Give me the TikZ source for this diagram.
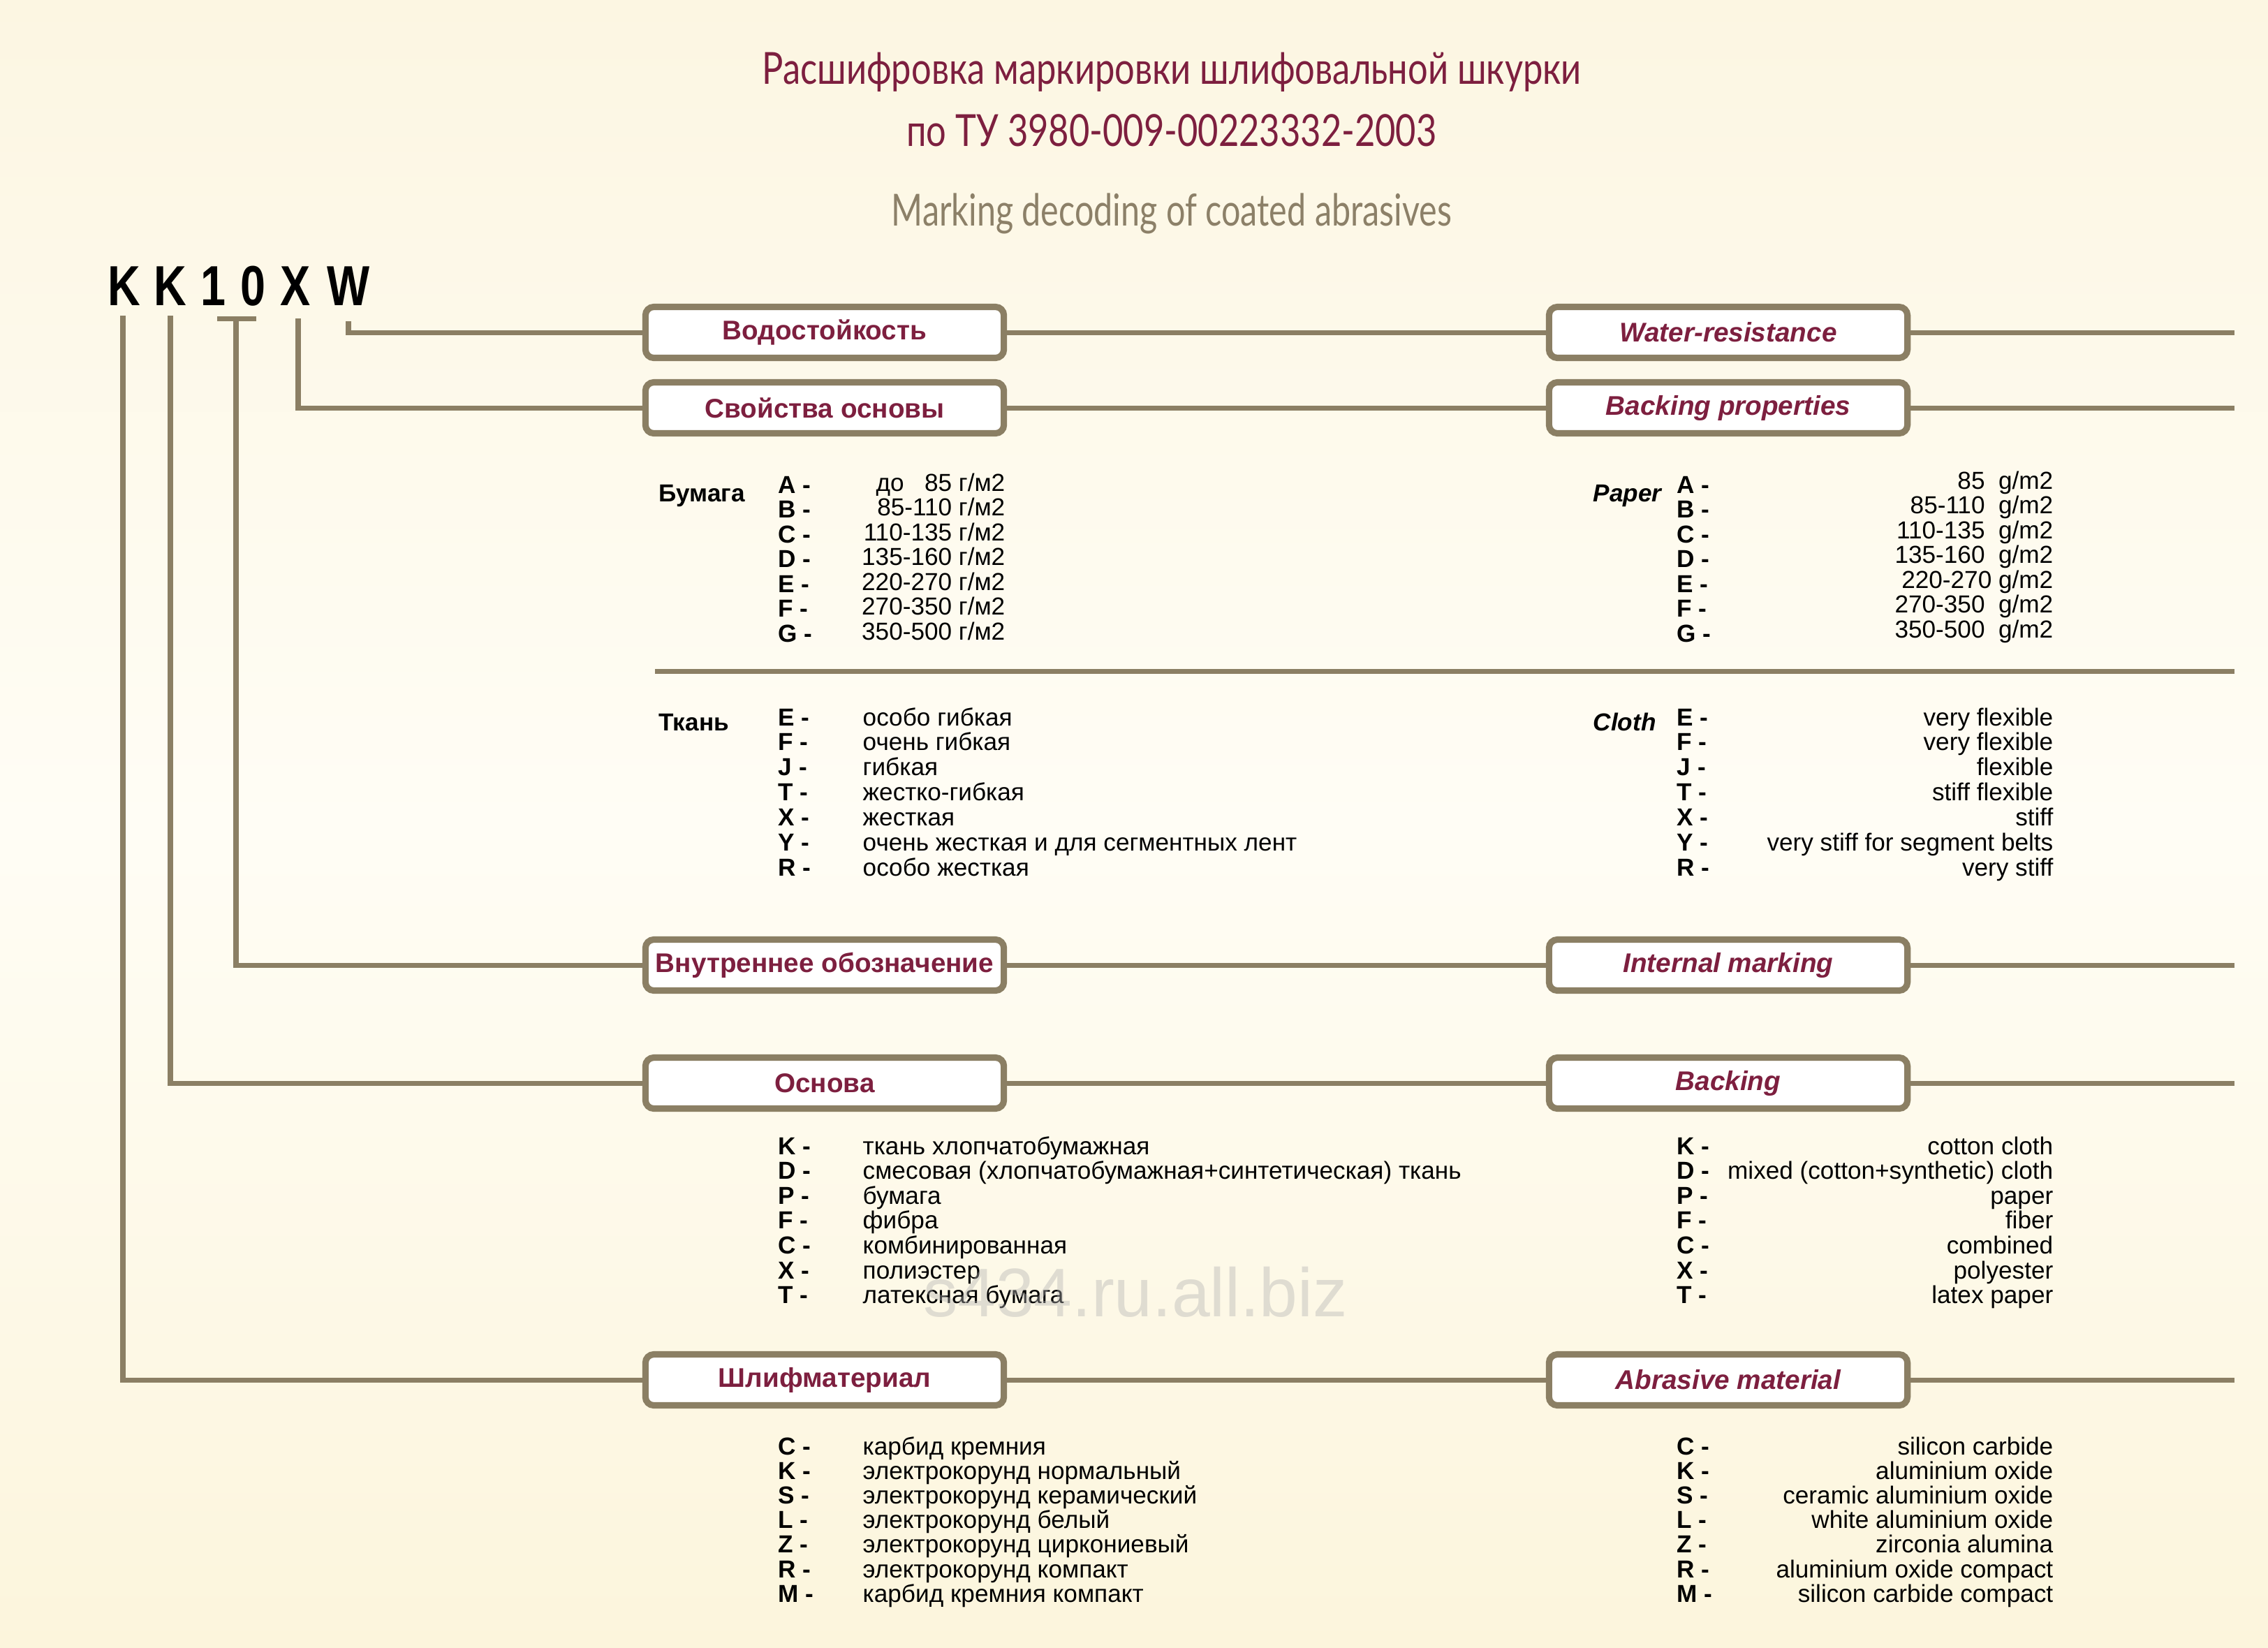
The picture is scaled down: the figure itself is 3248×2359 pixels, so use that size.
\documentclass[tikz,border=0pt]{standalone}
\usepackage{fontspec}
\setmainfont{Liberation Sans}
\newfontfamily\titlefont[FakeStretch=0.8]{Lato}
\newfontfamily\subtitlefont[FakeStretch=0.766]{Lato}
\newfontfamily\codefont[FakeStretch=0.8]{Liberation Sans}
\usetikzlibrary{shadows}
\definecolor{bgtop}{HTML}{FCF6E2}
\definecolor{bgmid}{HTML}{FFFDF5}
\definecolor{bgbot}{HTML}{FCF5DC}
\definecolor{lnc}{HTML}{8B7F64}
\definecolor{maroon}{HTML}{7D1F3F}
\definecolor{subt}{HTML}{8C8068}
\newcommand\gmr{г/м2}
\newcommand\gme{g/m2}
\tikzset{
  conn/.style={draw=lnc, line width=2pt},
  hbox/.style={draw=lnc, line width=2.6pt, fill=white, rounded corners=0.12cm,
    minimum width=5.13cm, minimum height=0.73cm, inner sep=0pt, text=maroon,
    font=\bfseries\fontsize{11}{13}\selectfont,
    drop shadow={shadow xshift=0.015cm, shadow yshift=-0.03cm, fill=lnc!80!black, opacity=0.6}},
  hboxr/.style={hbox, font=\bfseries\itshape\fontsize{11}{13}\selectfont},
  lbl/.style={font=\bfseries\fontsize{10}{12}\selectfont, anchor=base west, inner sep=0pt},
  lbli/.style={font=\bfseries\itshape\fontsize{10}{12}\selectfont, anchor=base west, inner sep=0pt},
  descl/.style={font=\fontsize{10}{12}\selectfont, anchor=base west, inner sep=0pt},
  descr/.style={font=\fontsize{10}{12}\selectfont, anchor=base east, inner sep=0pt},
  code/.style={font=\codefont\bfseries\fontsize{23}{25}\selectfont, anchor=base, inner sep=0pt},
  ttl/.style={font=\titlefont\fontsize{18}{20}\selectfont, anchor=base, inner sep=0pt}
}
\begin{document}
\begin{tikzpicture}[x=0.01cm, y=-0.01cm]
\shade[top color=bgtop, bottom color=bgbot, middle color=bgmid] (0,0) rectangle (3248,2359);
\path[use as bounding box] (0,0) rectangle (3248,2359);

% titles
\node[ttl, text=maroon] (t1) at (1678,120) {Расшифровка маркировки шлифовальной шкурки};
\node[ttl, text=maroon] (t2) at (1678,209) {по ТУ 3980-009-00223332-2003};
\node[ttl, text=subt, font=\subtitlefont\fontsize{18}{20}\selectfont] (t3) at (1678,323) {Marking decoding of coated abrasives};

% code letters
\node[code] (k1) at (178,437) {K};
\node[code] (k2) at (244,437) {K};
\node[code] (n1) at (305,437) {1};
\node[code] (n0) at (362,437) {0};
\node[code] (kx) at (423,437) {X};
\node[code] (kw) at (499,437) {W};

% connector start points
\coordinate (c1) at (176,452);
\coordinate (c2) at (244,452);
\coordinate (c3a) at (311,456);
\coordinate (c3b) at (367,456);
\coordinate (c3) at (338,456);
\coordinate (c4) at (427,456);
\coordinate (c5) at (499,460);
\foreach \n/\y in {1/476,2/584,3/1382,4/1551,5/1976}{
  \coordinate (e\n) at (3200,\y);
  \coordinate (bl\n) at (1181,\y);
  \coordinate (br\n) at (2475,\y);
}

% connectors (drawn first, boxes on top)
\draw[conn] (c5) |- (bl1);
\draw[conn] (c4) |- (bl2);
\draw[conn] (c3a) -- (c3b);
\draw[conn] (c3) |- (bl3);
\draw[conn] (c2) |- (bl4);
\draw[conn] (c1) |- (bl5);
\foreach \n in {1,...,5}{
  \draw[conn] (bl\n) -- (e\n);
}

% boxes
\node[hbox] (b1l) at (bl1) {Водостойкость};
\node[hboxr] (b1r) at (br1) {Water-resistance};
\node[hbox] (b2l) at (bl2) {Свойства основы};
\node[hboxr] (b2r) at (br2) {Backing properties};
\node[hbox] (b3l) at (bl3) {Внутреннее обозначение};
\node[hboxr] (b3r) at (br3) {Internal marking};
\node[hbox] (b4l) at (bl4) {Основа};
\node[hboxr] (b4r) at (br4) {Backing};
\node[hbox] (b5l) at (bl5) {Шлифматериал};
\node[hboxr] (b5r) at (br5) {Abrasive material};

% separator
\coordinate (s1) at (938,961);
\coordinate (s2) at (3200,961);
\draw[conn] (s1) -- (s2);

% Paper
\node[lbl] (pl) at (943,718) {Бумага};
\node[lbli] (pr) at (2281,718) {Paper};
\foreach \l/\v [count=\i from 0] in {A/{до\ \ \ 85 \gmr},B/{85-110 \gmr},C/{110-135 \gmr},D/{135-160 \gmr},E/{220-270 \gmr},F/{270-350 \gmr},G/{350-500 \gmr}}{
  \node[lbl] (pal\i) at (1114,{706+35.5*\i}) {\l\ -};
  \node[descr] (pvl\i) at (1440,{703+35.5*\i}) {\v};
  \node[lbl] (par\i) at (2401,{706+35.5*\i}) {\l\ -};
}
\foreach \v [count=\i from 0] in {{85\ \ \gme},{85-110\ \ \gme},{110-135\ \ \gme},{135-160\ \ \gme},{220-270 \gme},{270-350\ \ \gme},{350-500\ \ \gme}}{
  \node[descr] (pvr\i) at (2941,{700+35.5*\i}) {\v};
}

% Cloth
\node[lbl] (cl) at (943,1046) {Ткань};
\node[lbli] (cr) at (2281,1046) {Cloth};
\foreach \l/\a/\b [count=\i from 0] in {E/особо гибкая/very flexible,F/очень гибкая/very flexible,J/гибкая/flexible,T/жестко-гибкая/stiff flexible,X/жесткая/stiff,Y/очень жесткая и для сегментных лент/very stiff for segment belts,R/особо жесткая/very stiff}{
  \node[lbl] (cal\i) at (1114,{1039+35.9*\i}) {\l\ -};
  \node[descl] (cdl\i) at (1235,{1039+35.9*\i}) {\a};
  \node[lbl] (car\i) at (2401,{1039+35.9*\i}) {\l\ -};
  \node[descr] (cdr\i) at (2941,{1039+35.9*\i}) {\b};
}

% Backing
\foreach \l/\a/\b [count=\i from 0] in {K/ткань хлопчатобумажная/cotton cloth,D/смесовая (хлопчатобумажная+синтетическая) ткань/mixed (cotton+synthetic) cloth,P/бумага/paper,F/фибра/fiber,C/комбинированная/combined,X/полиэстер/polyester,T/латексная бумага/latex paper}{
  \node[lbl] (bal\i) at (1114,{1653+35.6*\i}) {\l\ -};
  \node[descl] (bdl\i) at (1235,{1653+35.6*\i}) {\a};
  \node[lbl] (bar\i) at (2401,{1653+35.6*\i}) {\l\ -};
  \node[descr] (bdr\i) at (2941,{1653+35.6*\i}) {\b};
}

% Abrasive
\foreach \l/\a/\b [count=\i from 0] in {C/карбид кремния/silicon carbide,K/электрокорунд нормальный/aluminium oxide,S/электрокорунд керамический/ceramic aluminium oxide,L/электрокорунд белый/white aluminium oxide,Z/электрокорунд циркониевый/zirconia alumina,R/электрокорунд компакт/aluminium oxide compact,M/карбид кремния компакт/silicon carbide compact}{
  \node[lbl] (aal\i) at (1114,{2083+35.2*\i}) {\l\ -};
  \node[descl] (adl\i) at (1235,{2083+35.2*\i}) {\a};
  \node[lbl] (aar\i) at (2401,{2083+35.2*\i}) {\l\ -};
  \node[descr] (adr\i) at (2941,{2083+35.2*\i}) {\b};
}

% watermark
\node[font=\fontsize{28}{30}\selectfont, text=black!30, opacity=0.4] (wm) at (1626,1850) {s434.ru.all.biz};
\end{tikzpicture}
\end{document}
